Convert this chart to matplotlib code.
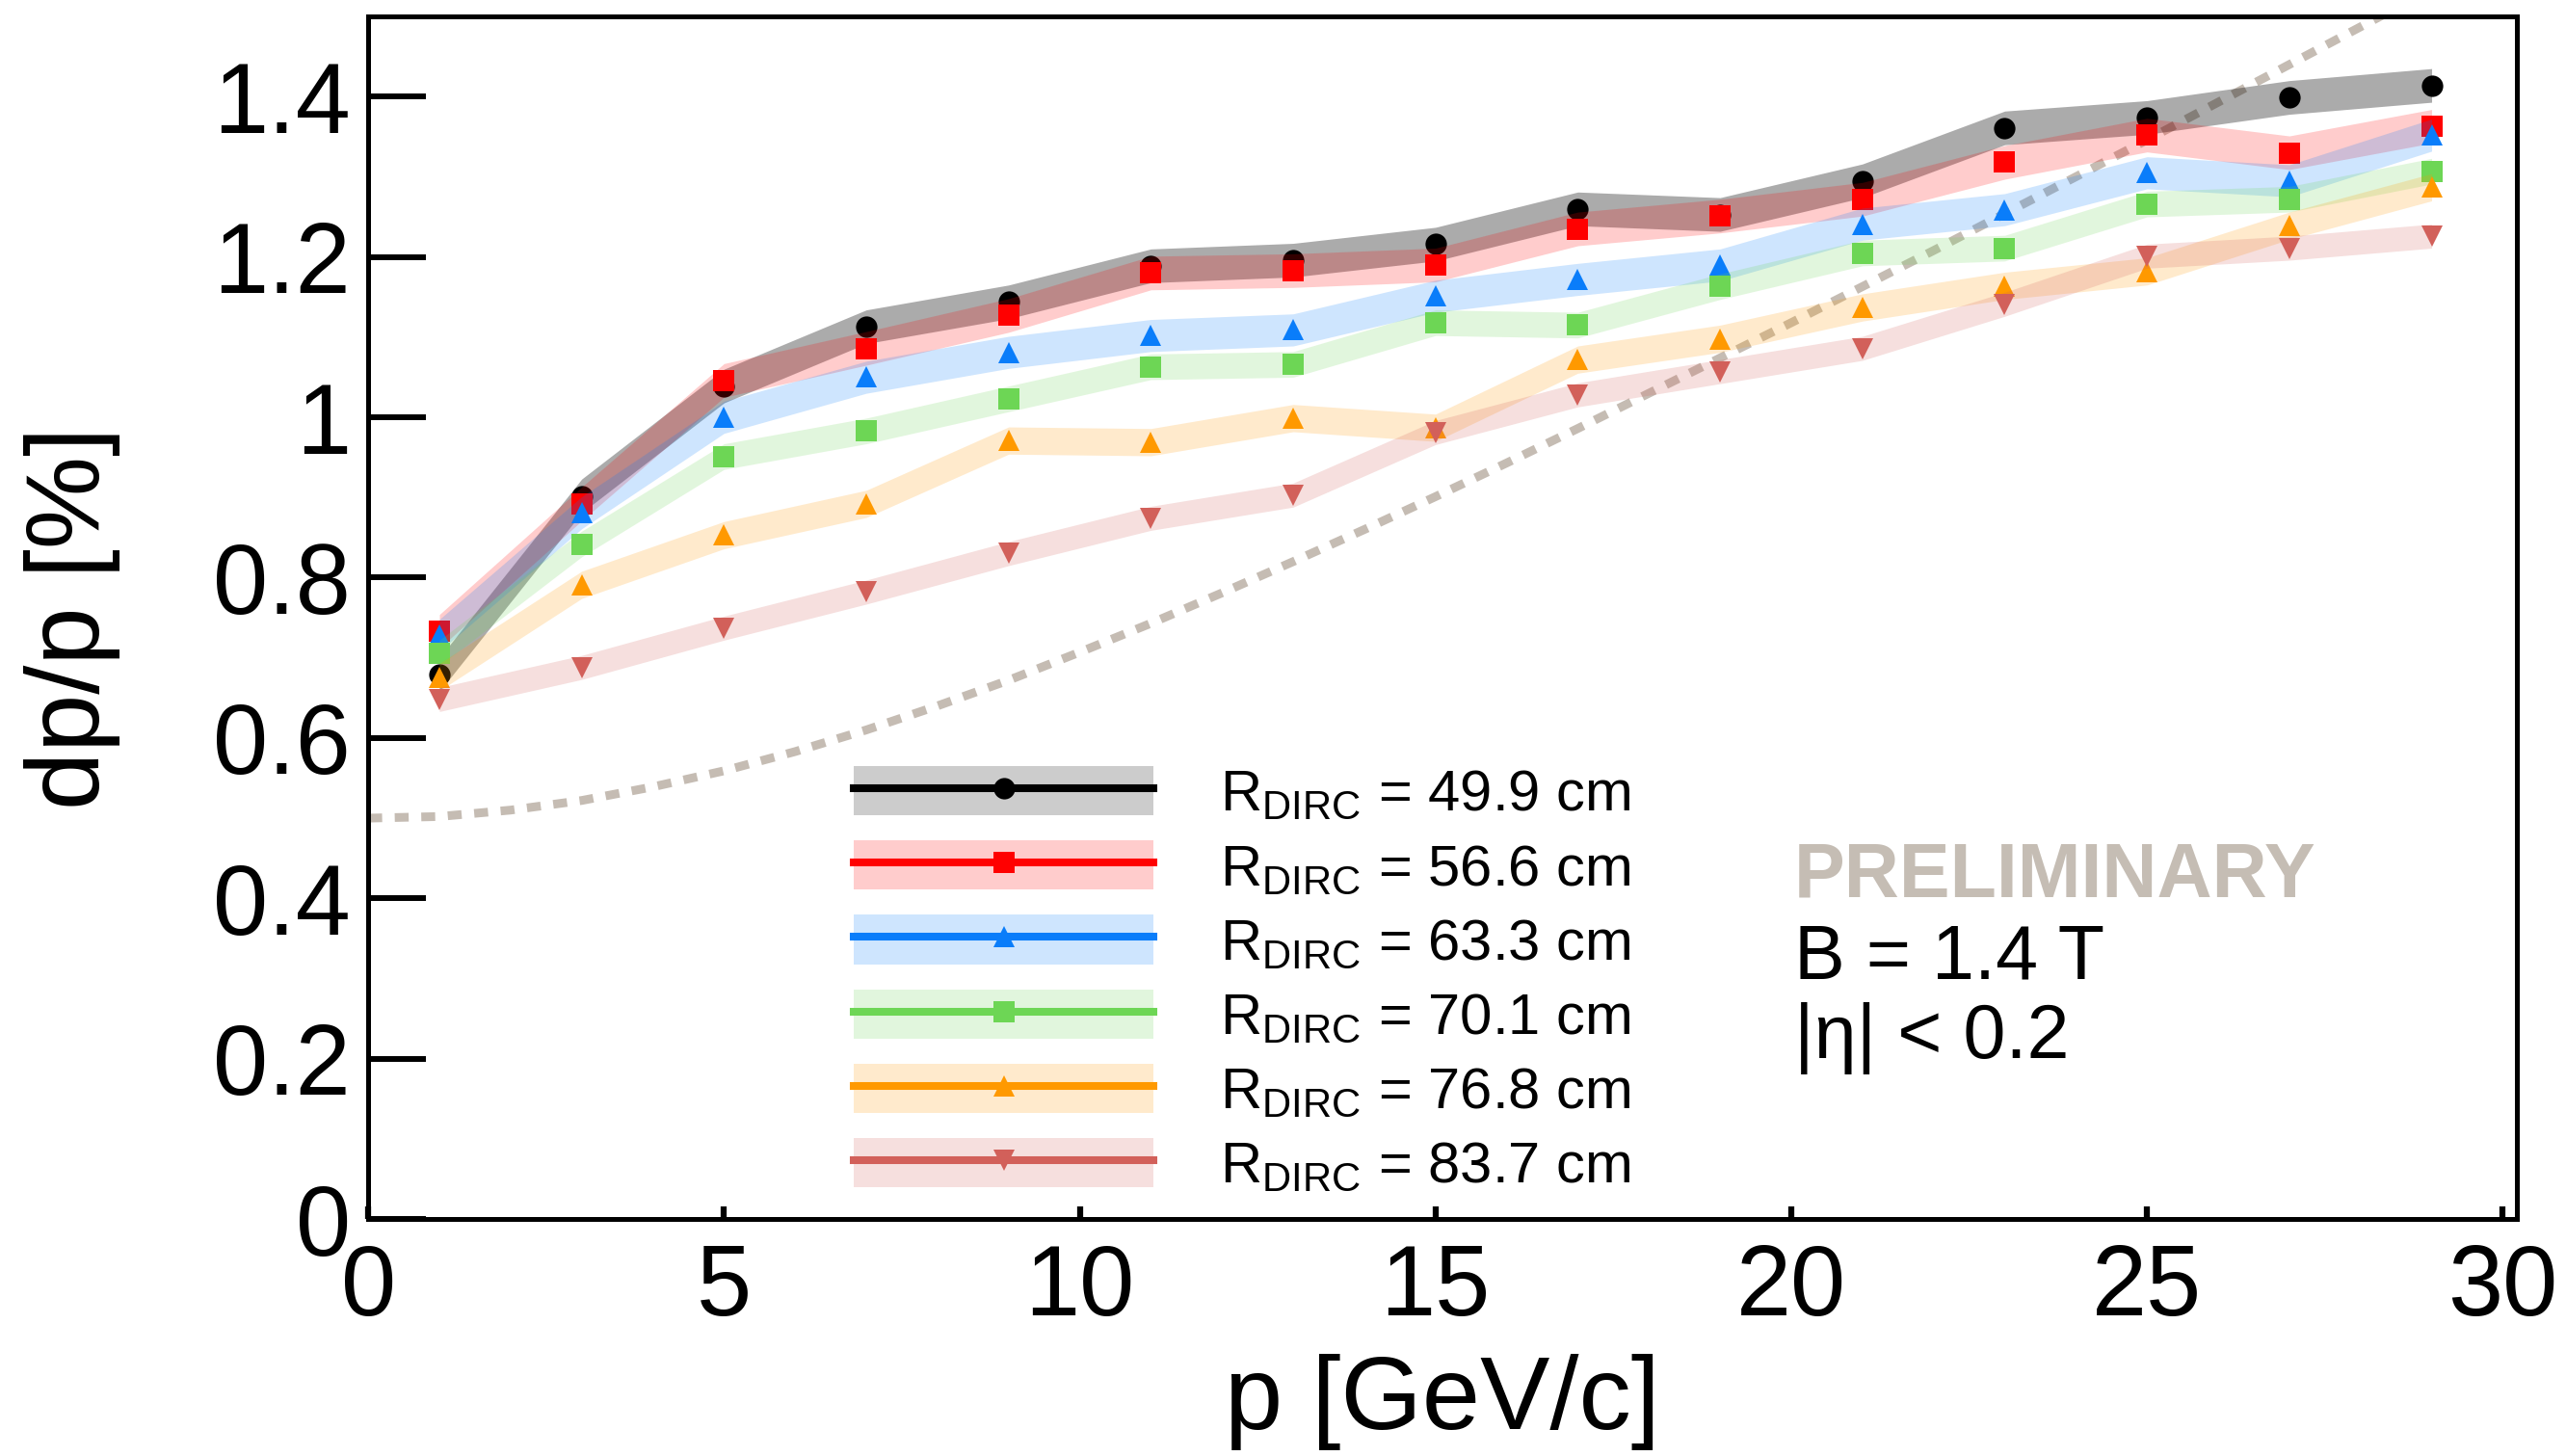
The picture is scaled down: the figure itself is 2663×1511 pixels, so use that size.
import matplotlib
matplotlib.use("Agg")
import matplotlib.pyplot as plt
from matplotlib.patches import Patch
from matplotlib.lines import Line2D
from matplotlib.legend_handler import HandlerTuple

plt.rcParams['font.family'] = ['Liberation Sans', 'DejaVu Sans']
plt.rcParams['mathtext.fontset'] = 'custom'
plt.rcParams['mathtext.rm'] = 'Liberation Sans'

# momentum bins [GeV/c]
p = [1, 3, 5, 7, 9, 11, 13, 15, 17, 19, 21, 23, 25, 27, 29]

# dp/p [%] for each DIRC radius
res_499 = [0.679, 0.902, 1.039, 1.113, 1.144, 1.189, 1.196, 1.216, 1.260, 1.253, 1.295, 1.361, 1.374, 1.399, 1.414]
res_566 = [0.733, 0.892, 1.046, 1.086, 1.127, 1.180, 1.183, 1.190, 1.235, 1.251, 1.272, 1.318, 1.352, 1.330, 1.363]
res_633 = [0.728, 0.881, 1.000, 1.050, 1.081, 1.102, 1.109, 1.151, 1.172, 1.190, 1.241, 1.259, 1.305, 1.295, 1.352]
res_701 = [0.706, 0.842, 0.951, 0.983, 1.023, 1.063, 1.066, 1.118, 1.115, 1.163, 1.205, 1.211, 1.266, 1.272, 1.307]
res_768 = [0.676, 0.791, 0.853, 0.892, 0.971, 0.969, 0.999, 0.987, 1.072, 1.098, 1.137, 1.164, 1.182, 1.239, 1.287]
res_837 = [0.648, 0.688, 0.737, 0.782, 0.830, 0.874, 0.903, 0.981, 1.028, 1.057, 1.086, 1.141, 1.201, 1.211, 1.226]

# half width of the uncertainty band of each series
band_499 = 0.021
band_566 = 0.021
band_633 = 0.020
band_701 = 0.016
band_768 = 0.017
band_837 = 0.015

radii = ["49.9", "56.6", "63.3", "70.1", "76.8", "83.7"]

# dashed reference curve, read every 1 GeV/c
p_ref = list(range(0, 31))
res_ref = [0.500, 0.502, 0.510, 0.522, 0.539, 0.559, 0.583, 0.610, 0.640, 0.672,
           0.707, 0.743, 0.781, 0.820, 0.860, 0.901, 0.943, 0.986, 1.030, 1.074,
           1.118, 1.163, 1.208, 1.254, 1.300, 1.346, 1.393, 1.440, 1.487, 1.534,
           1.581]

y_ticks = [0, 0.2, 0.4, 0.6, 0.8, 1, 1.2, 1.4]
y_tick_labels = ["0", "0.2", "0.4", "0.6", "0.8", "1", "1.2", "1.4"]
x_ticks = [0, 5, 10, 15, 20, 25, 30]

series = [
    (res_499, band_499, "#000000", "o", 0.33),
    (res_566, band_566, "#ff0000", "s", 0.2),
    (res_633, band_633, "#0a7dfa", "^", 0.2),
    (res_701, band_701, "#6dd655", "s", 0.2),
    (res_768, band_768, "#ff9900", "^", 0.2),
    (res_837, band_837, "#d2605a", "v", 0.2),
]

fig = plt.figure(figsize=(26.63, 15.11), dpi=100)
ax = fig.add_axes([0.1435, 0.1628, 0.8374, 0.8259])

ax.plot(p_ref, res_ref, color="#c5bcb3", lw=6.5, ls=(0, (1.6, 1.45)), zorder=1)

handles = []
for i, (vals, err, col, mk, a) in enumerate(series):
    lo = [v - err for v in vals]
    hi = [v + err for v in vals]
    ax.fill_between(p, lo, hi, color=col, alpha=a, lw=0, zorder=2 + 2 * i)
    ax.plot(p, vals, ls="none", marker=mk, ms=16, color=col, mew=0, zorder=3 + 2 * i)
    band = Patch(facecolor=col, alpha=0.2, lw=0)
    line = Line2D([], [], color=col, lw=5.8, marker=mk, ms=16, mew=0)
    handles.append((band, line))

labels = [r"$\mathregular{R_{DIRC}}$ = %s cm" % r for r in radii]
ax.legend(handles, labels, handler_map={tuple: HandlerTuple(ndivide=1, pad=0)},
          loc="center left", bbox_to_anchor=(0.2258, 0.1987), frameon=False,
          numpoints=1, fontsize=43, handlelength=5.22, handleheight=0.94,
          handletextpad=1.15, labelspacing=0.32, borderpad=0, borderaxespad=0)

ax.text(0.6637, 0.2684, "PRELIMINARY", transform=ax.transAxes, fontsize=57,
        fontweight="bold", color="#c5bdb4", va="baseline")
ax.text(0.6637, 0.2003, "B = 1.4 T", transform=ax.transAxes, fontsize=57, va="baseline")
ax.text(0.6637, 0.1338, "|η| < 0.2", transform=ax.transAxes, fontsize=57, va="baseline")

ax.set_xlim(0, 30.2)
ax.set_ylim(0, 1.5)
ax.set_xticks(x_ticks)
ax.set_yticks(y_ticks)
ax.set_yticklabels(y_tick_labels)
ax.tick_params(axis="y", direction="in", length=43, width=4.3, labelsize=74, pad=13)
ax.tick_params(axis="x", direction="in", length=9.5, width=4.5, labelsize=74, pad=18)
for s in ax.spines.values():
    s.set_linewidth(3.6)

ax.set_xlabel("p [GeV/c]", fontsize=78, labelpad=13)
ax.set_ylabel("dp/p [%]", fontsize=78, labelpad=69)

fig.savefig("out.png", dpi=100)
